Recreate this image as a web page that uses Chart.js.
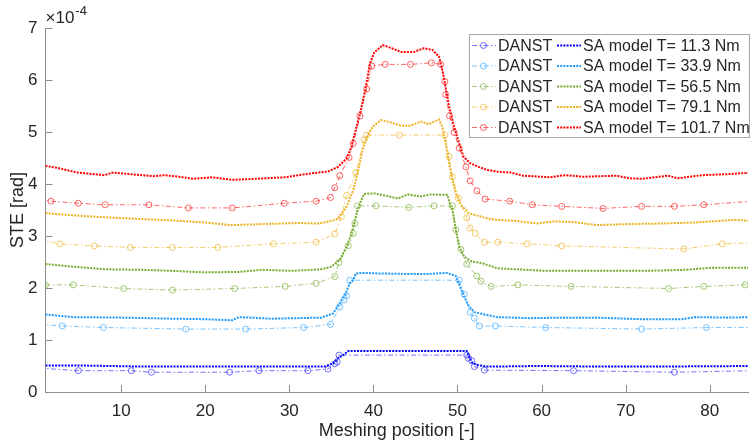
<!DOCTYPE html>
<html>
<head>
<meta charset="utf-8">
<script src="https://cdn.jsdelivr.net/npm/chart.js@4.4.1/dist/chart.umd.min.js"></script>
<style>
    body { margin: 0; background: #ffffff; }
    #wrap { width: 753px; height: 446px; }
</style>
</head>
<body>
<div id="wrap"><canvas id="canvas" width="753" height="446"></canvas></div>
<script>
// values in 1e-4 rad, positions along meshing
var xTicks = [10, 20, 30, 40, 50, 60, 70, 80];
var yTicks = [0, 1, 2, 3, 4, 5, 6, 7];
var torques = ['11.3', '33.9', '56.5', '79.1', '101.7'];

var danst11X = [0.3, 4.9, 11.2, 13.6, 22.9, 26.4, 32.2, 34.6, 35.4, 35.7, 35.9, 51.1, 51.3, 51.7, 52.0, 53.2, 63.8, 75.8, 85.2];
var danst11Y = [0.46, 0.41, 0.41, 0.38, 0.38, 0.41, 0.41, 0.44, 0.54, 0.58, 0.71, 0.71, 0.65, 0.60, 0.49, 0.42, 0.41, 0.38, 0.41];
var sa11X = [1.0, 5.1, 12.2, 20.0, 27.9, 34.2, 35.2, 35.8, 36.4, 37.0, 38.9, 41.7, 44.1, 46.5, 51.1, 51.4, 51.7, 52.3, 53.5, 54.7, 59.4, 66.5, 74.4, 85];
var sa11Y = [0.51, 0.51, 0.49, 0.49, 0.49, 0.49, 0.55, 0.66, 0.71, 0.79, 0.79, 0.79, 0.79, 0.79, 0.79, 0.68, 0.57, 0.52, 0.49, 0.49, 0.50, 0.49, 0.49, 0.50];

var danst33X = [0.3, 3.0, 7.9, 17.7, 24.8, 31.7, 34.9, 36.0, 36.5, 36.8, 37.2, 50.2, 50.8, 51.5, 52.0, 52.6, 54.5, 60.5, 71.9, 79.6, 85.2];
var danst33Y = [1.30, 1.27, 1.24, 1.21, 1.21, 1.24, 1.30, 1.64, 1.77, 1.85, 2.15, 2.15, 1.88, 1.53, 1.42, 1.27, 1.27, 1.24, 1.21, 1.24, 1.24];
var sa33X = [1.0, 4.3, 10.2, 16.1, 20.0, 23.2, 24.0, 27.9, 33.8, 35.2, 36.0, 36.6, 37.2, 37.6, 37.9, 38.9, 40.5, 44.1, 46.5, 48.8, 49.8, 50.3, 50.8, 51.4, 52.1, 53.5, 54.7, 58.6, 62.6, 66.5, 72.0, 76.7, 78.3, 82.2, 85];
var sa33Y = [1.49, 1.44, 1.43, 1.41, 1.40, 1.38, 1.44, 1.41, 1.43, 1.51, 1.71, 1.87, 2.09, 2.15, 2.28, 2.29, 2.28, 2.27, 2.27, 2.29, 2.23, 2.03, 1.83, 1.64, 1.53, 1.48, 1.44, 1.42, 1.43, 1.43, 1.40, 1.40, 1.44, 1.43, 1.44];

var danst56X = [1.0, 4.3, 10.3, 16.1, 23.5, 29.5, 33.2, 35.4, 35.9, 37.0, 37.6, 37.8, 38.1, 40.3, 44.2, 47.2, 49.4, 49.8, 50.4, 51.1, 52.3, 52.8, 54.0, 57.2, 63.5, 75.1, 79.3, 84.2, 85.2];
var danst56Y = [2.06, 2.06, 1.99, 1.96, 1.99, 2.03, 2.09, 2.22, 2.49, 2.81, 3.05, 3.24, 3.58, 3.58, 3.55, 3.58, 3.58, 3.12, 2.74, 2.46, 2.23, 2.13, 2.03, 2.06, 2.03, 1.99, 2.03, 2.06, 2.06];
var sa56X = [1.0, 4.3, 8.2, 12.2, 16.1, 20.0, 24.0, 26.7, 30.3, 33.8, 35.0, 36.0, 36.8, 37.4, 37.9, 38.4, 38.9, 40.1, 41.3, 42.9, 44.1, 45.6, 46.8, 48.8, 49.2, 49.4, 49.8, 50.2, 50.8, 51.7, 52.9, 54.7, 57.0, 60.6, 66.5, 72.4, 77.2, 80.3, 85];
var sa56Y = [2.46, 2.41, 2.36, 2.35, 2.33, 2.30, 2.31, 2.35, 2.33, 2.36, 2.41, 2.54, 2.79, 3.05, 3.37, 3.63, 3.81, 3.82, 3.78, 3.72, 3.80, 3.76, 3.80, 3.79, 3.56, 3.50, 3.12, 2.79, 2.60, 2.51, 2.48, 2.38, 2.36, 2.33, 2.33, 2.33, 2.35, 2.39, 2.39];

var danst79X = [0.3, 2.7, 6.8, 11.1, 16.1, 21.5, 28.1, 33.2, 35.4, 36.2, 36.8, 37.9, 38.9, 39.2, 43.1, 48.5, 49.0, 49.4, 50.1, 51.1, 51.5, 52.1, 53.2, 54.8, 58.3, 62.4, 76.9, 81.5, 85.2];
var danst79Y = [2.92, 2.85, 2.81, 2.78, 2.78, 2.78, 2.85, 2.88, 3.04, 3.37, 3.78, 4.22, 4.85, 4.94, 4.94, 4.94, 4.53, 4.14, 3.73, 3.35, 3.15, 3.05, 2.88, 2.88, 2.85, 2.81, 2.75, 2.85, 2.87];
var sa79X = [1.0, 4.0, 8.0, 12.0, 16.0, 20.0, 23.0, 27.0, 31.0, 33.5, 35.0, 35.8, 36.8, 37.6, 38.2, 38.7, 39.3, 39.9, 40.9, 41.7, 43.3, 44.4, 45.6, 46.6, 47.8, 48.2, 48.6, 49.0, 49.4, 49.8, 50.4, 51.3, 53.5, 54.7, 57.0, 59.4, 61.4, 63.7, 66.5, 70.4, 74.4, 78.3, 83.0, 85];
var sa79Y = [3.44, 3.40, 3.36, 3.33, 3.30, 3.26, 3.21, 3.23, 3.25, 3.24, 3.29, 3.33, 3.56, 3.88, 4.27, 4.65, 4.94, 5.10, 5.23, 5.20, 5.12, 5.12, 5.20, 5.15, 5.24, 5.10, 4.78, 4.40, 4.08, 3.82, 3.60, 3.44, 3.34, 3.31, 3.29, 3.24, 3.28, 3.27, 3.21, 3.23, 3.24, 3.26, 3.31, 3.29];

var danst101X = [0.3, 1.65, 4.9, 8.1, 13.3, 18.0, 23.2, 29.4, 33.2, 34.9, 35.4, 36.0, 37.1, 37.6, 38.4, 39.2, 39.8, 41.4, 44.4, 46.9, 48.0, 48.5, 48.6, 49.05, 49.6, 50.2, 51.0, 51.5, 52.3, 53.3, 56.2, 58.9, 62.4, 67.3, 71.9, 75.8, 79.3, 85.2];
var danst101Y = [3.70, 3.67, 3.63, 3.60, 3.60, 3.54, 3.54, 3.63, 3.67, 3.74, 3.93, 4.16, 4.51, 4.78, 5.31, 5.83, 6.27, 6.30, 6.30, 6.33, 6.30, 5.97, 5.72, 5.31, 4.99, 4.69, 4.33, 4.06, 3.87, 3.71, 3.67, 3.60, 3.57, 3.53, 3.57, 3.57, 3.60, 3.67];
var sa101X = [1.0, 2.7, 4.8, 8.0, 9.0, 11.0, 13.9, 15.1, 16.9, 18.5, 20.8, 23.2, 26.0, 29.5, 31.1, 33.4, 34.6, 35.8, 36.8, 37.4, 37.9, 38.5, 39.1, 39.6, 40.1, 41.1, 41.7, 43.3, 44.8, 46.0, 47.0, 47.8, 48.2, 48.5, 49.0, 49.6, 50.2, 50.7, 51.5, 52.5, 53.5, 54.7, 56.3, 57.8, 61.0, 62.8, 64.9, 68.9, 70.4, 72.0, 75.0, 76.2, 79.1, 82.2, 85];
var sa101Y = [4.35, 4.30, 4.22, 4.17, 4.22, 4.19, 4.15, 4.17, 4.14, 4.10, 4.13, 4.08, 4.10, 4.13, 4.17, 4.22, 4.24, 4.33, 4.49, 4.72, 5.04, 5.42, 5.87, 6.32, 6.53, 6.67, 6.64, 6.54, 6.54, 6.61, 6.58, 6.45, 6.19, 5.94, 5.49, 5.10, 4.78, 4.53, 4.40, 4.33, 4.27, 4.24, 4.22, 4.16, 4.13, 4.17, 4.14, 4.16, 4.11, 4.10, 4.16, 4.11, 4.17, 4.19, 4.22];

var colors = ['#0000ff', '#1e9bff', '#77ac30', '#edb120', '#ff0000'];
var fadedColors = ['rgba(40,40,255,0.65)', 'rgba(50,165,255,0.65)', 'rgba(119,172,48,0.65)', 'rgba(237,177,32,0.65)', 'rgba(255,20,20,0.65)'];
var axisColor = '#8c8c8c';
var textColor = '#262626';
var fontFamily = "'Liberation Sans', Arial, sans-serif";

function zip(xs, ys) {
    var pts = [];
    for (var i = 0; i < xs.length; i++) pts.push({x: xs[i], y: ys[i]});
    return pts;
}

var danstData = [zip(danst11X, danst11Y), zip(danst33X, danst33Y), zip(danst56X, danst56Y), zip(danst79X, danst79Y), zip(danst101X, danst101Y)];
var saData = [zip(sa11X, sa11Y), zip(sa33X, sa33Y), zip(sa56X, sa56Y), zip(sa79X, sa79Y), zip(sa101X, sa101Y)];

var datasets = [];
for (var i = 0; i < torques.length; i++) {
    datasets.push({
        label: 'DANST',
        data: danstData[i],
        borderColor: fadedColors[i],
        borderWidth: 1,
        borderDash: [5, 2.5, 1.5, 2.5],
        pointRadius: 3,
        pointBorderWidth: 1,
        pointBorderColor: fadedColors[i],
        pointBackgroundColor: 'rgba(255,255,255,0)',
        tension: 0
    });
    datasets.push({
        label: 'SA model T= ' + torques[i] + ' Nm',
        data: saData[i],
        borderColor: colors[i],
        borderWidth: 2,
        borderDash: [2, 1.2],
        pointRadius: 0,
        tension: 0
    });
}

// inward ticks, exponent label and the two-column legend
var extras = {
    id: 'extras',
    afterDraw: function (chart) {
        var ctx = chart.ctx;
        var xs = chart.scales.x, ys = chart.scales.y, a = chart.chartArea;
        ctx.save();
        ctx.strokeStyle = axisColor;
        ctx.lineWidth = 1;
        ctx.setLineDash([]);
        ctx.beginPath();
        xs.ticks.forEach(function (t) {
            var px = Math.round(xs.getPixelForValue(t.value)) + 0.5;
            ctx.moveTo(px, a.bottom);
            ctx.lineTo(px, a.bottom - 7);
        });
        ys.ticks.forEach(function (t) {
            var py = Math.round(ys.getPixelForValue(t.value)) + 0.5;
            ctx.moveTo(a.left, py);
            ctx.lineTo(a.left + 7, py);
        });
        ctx.stroke();

        ctx.fillStyle = textColor;
        ctx.textBaseline = 'alphabetic';
        ctx.textAlign = 'left';
        ctx.font = '17px ' + fontFamily;
        ctx.fillText('\u00d710', a.left, 23);
        var w = ctx.measureText('\u00d710').width;
        ctx.font = '13px ' + fontFamily;
        ctx.fillText('-4', a.left + w + 1, 15);

        // legend box
        var bx = 469.5, by = 34.5, bw = 280, bh = 103;
        ctx.fillStyle = '#ffffff';
        ctx.fillRect(bx, by, bw, bh);
        ctx.strokeStyle = '#a6a6a6';
        ctx.strokeRect(bx, by, bw, bh);
        ctx.font = '16px ' + fontFamily;
        ctx.textBaseline = 'middle';
        var ds = chart.data.datasets;
        for (var k = 0; k < torques.length; k++) {
            var y = 45.5 + k * 20.5;
            var d = ds[2 * k], s = ds[2 * k + 1];
            ctx.strokeStyle = d.borderColor;
            ctx.lineWidth = d.borderWidth;
            ctx.setLineDash(d.borderDash);
            ctx.beginPath();
            ctx.moveTo(472, y);
            ctx.lineTo(496, y);
            ctx.stroke();
            ctx.setLineDash([]);
            ctx.beginPath();
            ctx.arc(483.5, y, 3, 0, Math.PI * 2);
            ctx.stroke();
            ctx.fillStyle = textColor;
            ctx.fillText(d.label, 498, y + 1);

            ctx.strokeStyle = s.borderColor;
            ctx.lineWidth = s.borderWidth;
            ctx.setLineDash(s.borderDash);
            ctx.beginPath();
            ctx.moveTo(557, y);
            ctx.lineTo(581, y);
            ctx.stroke();
            ctx.setLineDash([]);
            ctx.fillText(s.label, 583, y + 1);
        }
        ctx.restore();
    }
};

var ctx = document.getElementById('canvas').getContext('2d');
var myChart = new Chart(ctx, {
    type: 'line',
    data: {datasets: datasets},
    plugins: [extras],
    options: {
        responsive: false,
        animation: false,
        devicePixelRatio: 1,
        layout: {padding: {top: 28, right: 0, left: 0, bottom: 0}},
        plugins: {
            legend: {display: false},
            tooltip: {enabled: false}
        },
        scales: {
            x: {
                type: 'linear',
                min: 1,
                max: 84.55,
                grid: {display: false, drawTicks: false},
                border: {color: axisColor, width: 1},
                afterBuildTicks: function (scale) {
                    scale.ticks = xTicks.map(function (v) { return {value: v}; });
                },
                afterFit: function (scale) { scale.height = 54; },
                ticks: {
                    color: textColor,
                    padding: 9,
                    maxRotation: 0,
                    font: {family: fontFamily, size: 17}
                },
                title: {
                    display: true,
                    text: 'Meshing position [-]',
                    color: textColor,
                    font: {family: fontFamily, size: 18},
                    padding: {top: 0, bottom: 4}
                }
            },
            y: {
                type: 'linear',
                min: 0,
                max: 7,
                grid: {display: false, drawTicks: false},
                border: {color: axisColor, width: 1},
                afterBuildTicks: function (scale) {
                    scale.ticks = yTicks.map(function (v) { return {value: v}; });
                },
                afterFit: function (scale) { scale.width = 45.5; },
                ticks: {
                    color: textColor,
                    padding: 8,
                    font: {family: fontFamily, size: 17}
                },
                title: {
                    display: true,
                    text: 'STE [rad]',
                    color: textColor,
                    font: {family: fontFamily, size: 18},
                    padding: {top: 7, bottom: 0}
                }
            }
        }
    }
});
</script>
</body>
</html>
